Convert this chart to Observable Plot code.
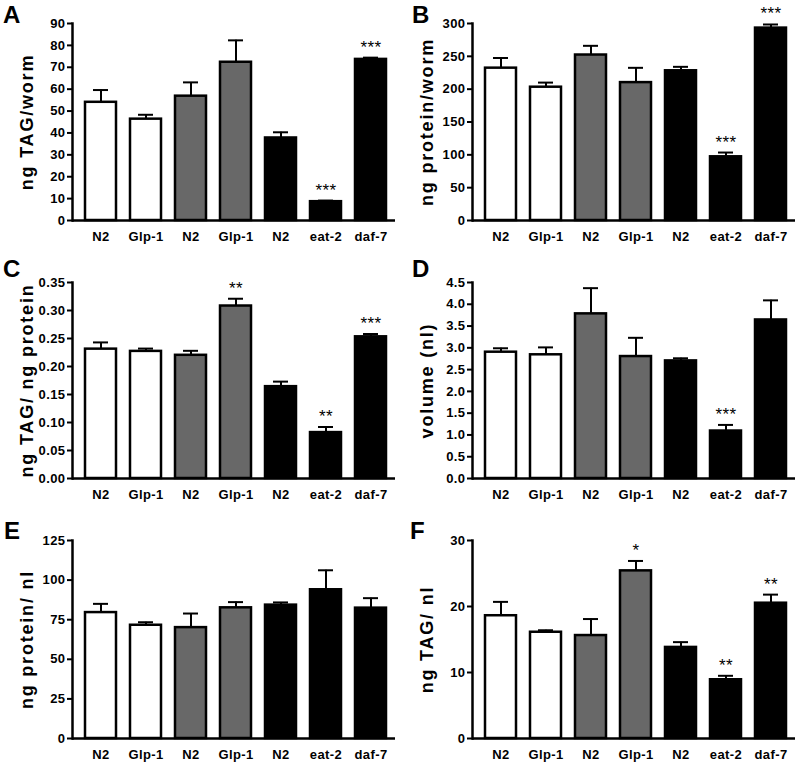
<!DOCTYPE html>
<html>
<head>
<meta charset="utf-8">
<script src="https://cdn.jsdelivr.net/npm/d3@7"></script>
<script src="https://cdn.jsdelivr.net/npm/@observablehq/plot@0.6"></script>
<style>
  body { margin: 0; background: #fff; }
  #wrap { position: relative; width: 797px; height: 762px; overflow: hidden; background: #fff;
          font-family: "Liberation Sans", Arial, Helvetica, sans-serif; }
  .panel { position: absolute; }
  .letter { position: absolute; font-weight: bold; font-size: 24px; line-height: 1; color: #000; }
</style>
</head>
<body>
<div id="wrap"></div>
<script>
// ---- categories & groups ----
const labels = ["N2", "Glp-1", "N2", "Glp-1", "N2", "eat-2", "daf-7"];
const groupKey = ["g1", "g1", "g2", "g2", "g3", "g3", "g3"];
const groupDomain = ["g1", "g2", "g3"];
const groupColors = ["#ffffff", "#686868", "#000000"];

// ---- panel A: ng TAG/worm ----
const tagWormMean = [54, 46.3, 56.8, 72.3, 37.7, 8.6, 73.6];
const tagWormSem  = [5.6, 2.0, 6.3, 10.0, 2.6, 0.5, 0.8];
const tagWormStars = ["", "", "", "", "", "***", "***"];
const tagWormTicks = [0, 10, 20, 30, 40, 50, 60, 70, 80, 90];

// ---- panel B: ng protein/worm ----
const protWormMean = [232, 203, 252, 210, 228, 97, 293];
const protWormSem  = [15.5, 7, 14, 22.5, 6, 6.5, 5.5];
const protWormStars = ["", "", "", "", "", "***", "***"];
const protWormTicks = [0, 50, 100, 150, 200, 250, 300];

// ---- panel C: ng TAG / ng protein ----
const tagProtMean = [0.231, 0.227, 0.220, 0.308, 0.164, 0.082, 0.253];
const tagProtSem  = [0.012, 0.005, 0.008, 0.013, 0.009, 0.010, 0.005];
const tagProtStars = ["", "", "", "**", "", "**", "***"];
const tagProtTicks = [0, 0.05, 0.10, 0.15, 0.20, 0.25, 0.30, 0.35];

// ---- panel D: volume (nl) ----
const volumeMean = [2.90, 2.84, 3.78, 2.80, 2.70, 1.09, 3.64];
const volumeSem  = [0.09, 0.17, 0.59, 0.43, 0.06, 0.14, 0.45];
const volumeStars = ["", "", "", "", "", "***", ""];
const volumeTicks = [0, 0.5, 1.0, 1.5, 2.0, 2.5, 3.0, 3.5, 4.0, 4.5];

// ---- panel E: ng protein / nl ----
const protNlMean = [79.5, 71.5, 70, 82.5, 84.2, 93.9, 82.3];
const protNlSem  = [5.5, 1.9, 8.9, 3.6, 1.7, 12.3, 6.3];
const protNlStars = ["", "", "", "", "", "", ""];
const protNlTicks = [0, 25, 50, 75, 100, 125];

// ---- panel F: ng TAG / nl ----
const tagNlMean = [18.6, 16.1, 15.6, 25.4, 13.8, 8.9, 20.5];
const tagNlSem  = [2.1, 0.3, 2.5, 1.5, 0.8, 0.6, 1.3];
const tagNlStars = ["", "", "", "*", "", "**", "**"];
const tagNlTicks = [0, 10, 20, 30];

const panels = [
  {letter: "A", title: "ng TAG/worm", mean: tagWormMean, sem: tagWormSem, stars: tagWormStars, ticks: tagWormTicks, fmt: d3.format("d"),
   left: 0, top: 0, w: 400, h: 250, mt: 23, mb: 30, mr: 5, lx: 3, ly: 3},
  {letter: "B", title: "ng protein/worm", mean: protWormMean, sem: protWormSem, stars: protWormStars, ticks: protWormTicks, fmt: d3.format("d"),
   left: 400, top: 0, w: 397, h: 250, mt: 23, mb: 30, mr: 2, lx: 412, ly: 3},
  {letter: "C", title: "ng TAG/ ng protein", mean: tagProtMean, sem: tagProtSem, stars: tagProtStars, ticks: tagProtTicks, fmt: d3.format(".2f"),
   left: 0, top: 258, w: 400, h: 250, mt: 24, mb: 30, mr: 5, lx: 3, ly: 257},
  {letter: "D", title: "volume (nl)", mean: volumeMean, sem: volumeSem, stars: volumeStars, ticks: volumeTicks, fmt: d3.format(".1f"),
   left: 400, top: 258, w: 397, h: 250, mt: 24, mb: 30, mr: 2, lx: 412, ly: 257},
  {letter: "E", title: "ng protein/ nl", mean: protNlMean, sem: protNlSem, stars: protNlStars, ticks: protNlTicks, fmt: d3.format("d"),
   left: 0, top: 510, w: 400, h: 252, mt: 30, mb: 24, mr: 5, lx: 4, ly: 519},
  {letter: "F", title: "ng TAG/ nl", mean: tagNlMean, sem: tagNlSem, stars: tagNlStars, ticks: tagNlTicks, fmt: d3.format("d"),
   left: 400, top: 510, w: 397, h: 252, mt: 30, mb: 24, mr: 2, lx: 410, ly: 519}
];

const wrap = document.getElementById("wrap");

for (const p of panels) {
  const data = p.mean.map((v, i) => ({i, v, hi: v + p.sem[i], g: groupKey[i], star: p.stars[i]}));
  const ymax = p.ticks[p.ticks.length - 1];
  const svg = Plot.plot({
    width: p.w, height: p.h,
    marginLeft: 72, marginRight: p.mr, marginTop: p.mt, marginBottom: p.mb,
    x: {domain: d3.range(labels.length), paddingInner: 0.32, paddingOuter: 0.16, insetLeft: 4, insetRight: 1},
    y: {domain: [0, ymax]},
    color: {domain: groupDomain, range: groupColors},
    style: {fontFamily: '"Liberation Sans", Arial, sans-serif', fontWeight: "bold", fontSize: "13px",
            letterSpacing: "0.4px", color: "#000", background: "transparent", overflow: "visible"},
    marks: [
      Plot.barY(data, {x: "i", y: "v", fill: "g", stroke: "#000", strokeWidth: 2.5}),
      Plot.ruleX(data, {x: "i", y1: "v", y2: "hi", stroke: "#000", strokeWidth: 2}),
      Plot.tickY(data, {x: "i", y: "hi", stroke: "#000", strokeWidth: 2, insetLeft: 8, insetRight: 8}),
      Plot.text(data.filter(d => d.star), {x: "i", y: "hi", text: "star", dy: -5, lineAnchor: "bottom",
                fontSize: 17, fontWeight: "normal"}),
      Plot.ruleY([0], {stroke: "#000", strokeWidth: 2.5}),
      Plot.frame({anchor: "left", stroke: "#000", strokeWidth: 2.5}),
      Plot.axisY({ticks: p.ticks, tickFormat: p.fmt, tickSize: 5, tickPadding: 2, strokeWidth: 2, label: null}),
      Plot.axisX({tickSize: 0, tickPadding: 11, tickFormat: i => labels[i], label: null}),
      Plot.text([p.title], {frameAnchor: "left", textAnchor: "middle", lineAnchor: "middle", rotate: -90, dx: -45,
                fontSize: 18, fontWeight: "bold"})
    ]
  });
  d3.select(svg).selectAll("text").filter(function () { return this.textContent === p.title; })
    .attr("letter-spacing", "1.8px");
  const div = document.createElement("div");
  div.className = "panel";
  div.style.left = p.left + "px";
  div.style.top = p.top + "px";
  div.appendChild(svg);
  wrap.appendChild(div);
  const lab = document.createElement("div");
  lab.className = "letter";
  lab.style.left = p.lx + "px";
  lab.style.top = p.ly + "px";
  lab.textContent = p.letter;
  wrap.appendChild(lab);
}
</script>
</body>
</html>
